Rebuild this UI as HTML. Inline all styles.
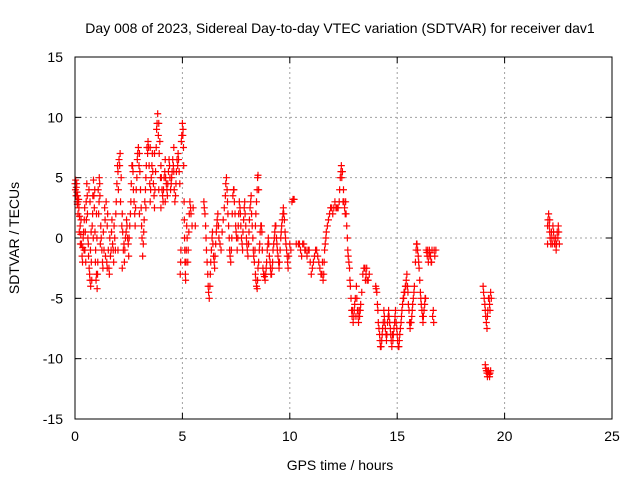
<!DOCTYPE html>
<html><head><meta charset="utf-8">
<style>
html,body{margin:0;padding:0;background:#fff;}
svg{display:block;font-family:"Liberation Sans",sans-serif;}
</style></head>
<body>
<svg id="chart" width="640" height="480" viewBox="0 0 640 480" xmlns="http://www.w3.org/2000/svg">
<text x="340" y="33" font-size="14" text-anchor="middle" fill="#000">Day 008 of 2023, Sidereal Day-to-day VTEC variation (SDTVAR) for receiver dav1</text>
<g id="grid"></g>
<g id="ticks"></g>
<g id="marks"></g>
<rect x="75" y="57" width="537" height="362" fill="none" stroke="#000" stroke-width="1"/>
<text x="340" y="470" font-size="14" text-anchor="middle">GPS time / hours</text>
<text x="19" y="238" font-size="14" text-anchor="middle" transform="rotate(-90 19 238)">SDTVAR / TECUs</text>
</svg>
<script>
const xTicks = [0, 5, 10, 15, 20, 25];
const yTicks = [-15, -10, -5, 0, 5, 10, 15];
const times = [0.00,0.03,0.06,0.09,0.12,0.15,0.18,0.21,0.24,0.27,0.30,0.33,0.36,0.40,0.43,0.46,0.50,0.52,0.55,0.58,0.60,0.63,0.66,0.70,0.73,0.76,0.80,0.83,0.86,0.90,0.93,0.96,1.00,1.03,1.06,1.10,1.13,1.16,1.20,1.25,1.30,1.35,1.40,1.45,1.50,1.55,1.60,1.65,1.70,1.75,1.80,1.85,1.90,1.95,2.00,2.05,2.10,2.15,2.20,2.25,2.30,2.35,2.40,2.45,2.50,2.55,2.60,2.65,2.70,2.75,2.80,2.85,2.90,2.95,3.00,3.05,3.10,3.15,3.20,3.25,3.30,3.35,3.40,3.45,3.50,3.55,3.60,3.65,3.70,3.75,3.80,3.85,3.90,3.95,4.00,4.05,4.10,4.15,4.20,4.25,4.30,4.35,4.40,4.45,4.50,4.55,4.60,4.65,4.70,4.75,4.80,4.85,4.90,4.93,4.95,5.00,5.03,5.06,5.08,5.10,5.12,5.15,5.18,5.20,5.25,5.30,5.35,5.40,5.45,5.50,5.60,
3.0,3.3,3.7,4.2,4.6,1.0,0.7,2.0,2.2,4.0,3.9,3.5,0.1,1.5,
6.00,6.05,6.10,6.15,6.20,6.25,6.30,6.35,6.40,6.45,6.50,6.55,6.60,6.65,6.70,6.80,6.90,7.00,7.05,7.10,7.15,7.20,7.25,7.30,7.35,7.40,7.45,7.50,7.55,7.60,7.65,7.70,7.75,7.80,7.85,7.90,7.95,8.00,8.05,8.10,8.15,8.20,8.25,8.30,8.35,8.40,8.45,8.50,8.55,8.40,8.45,8.50,8.55,8.60,8.65,8.70,8.75,8.80,8.85,8.90,8.95,9.00,9.05,9.10,9.15,9.20,9.25,9.30,9.35,9.40,9.45,9.50,9.55,9.60,9.65,9.70,9.75,9.80,9.85,9.90,9.95,10.00,10.10,10.20,10.40,10.50,10.60,10.70,10.80,10.90,11.00,11.10,11.20,11.30,11.40,11.50,11.55,11.60,11.65,11.70,11.80,11.90,12.00,12.10,12.20,12.30,12.35,12.40,12.45,12.50,12.55,12.60,12.65,12.70,12.75,12.80,12.85,12.90,12.95,13.00,13.05,13.10,13.15,13.20,13.25,13.30,13.40,13.50,13.55,13.60,13.70,14.00,14.05,14.10,14.15,14.20,14.25,14.30,14.35,14.40,14.45,14.50,14.55,14.60,14.65,14.70,14.75,14.80,14.85,14.90,14.95,15.00,15.05,15.10,15.15,15.20,15.25,15.30,15.35,15.40,15.45,15.50,15.55,15.60,15.65,15.70,15.75,15.80,15.85,15.90,15.95,16.00,16.05,16.10,16.15,16.20,16.25,16.30,16.35,16.40,16.45,16.50,16.55,16.60,16.65,16.70,16.75,16.80,
19.00,19.05,19.10,19.15,19.20,19.25,19.30,19.35,19.10,19.15,19.20,19.25,19.30,19.35,
22.00,22.05,22.10,22.15,22.20,22.25,22.30,22.35,22.40,22.45,22.50,22.55,22.00,22.10];
const values = [4.5,4.8,4.2,3.8,3.5,3.0,2.5,1.8,1.0,0.3,-0.5,-1.5,-0.8,0.5,1.5,-1.0,-2.0,3.0,4.5,2.0,0.0,-1.5,-2.5,-3.5,-4.0,-2.0,1.0,3.5,4.8,2.5,0.5,-1.0,-3.0,-4.2,-2.0,2.0,5.0,3.5,1.0,-1.0,-2.5,-1.0,1.5,3.0,1.0,-1.0,-3.0,-1.5,0.5,-0.5,-2.0,0.0,2.0,4.5,5.5,6.5,7.0,5.0,2.0,-1.0,-2.0,0.0,1.5,0.0,-1.5,1.0,3.0,6.0,5.5,3.0,1.0,4.0,6.5,7.5,7.0,4.0,1.0,-1.5,0.5,3.0,5.0,7.5,8.0,6.0,3.0,5.0,7.0,4.5,2.5,5.5,9.0,10.3,9.5,8.0,6.0,4.0,3.0,5.0,6.5,4.5,3.5,5.5,6.0,4.0,5.0,6.5,5.5,3.0,4.5,6.5,7.0,5.5,-3.0,-1.0,8.0,9.5,9.0,6.0,3.0,0.0,-2.0,-3.5,-1.0,1.0,-2.0,0.5,3.0,2.0,1.0,2.5,1.0,
2.0,2.5,7.0,3.0,7.5,2.0,3.0,-1.0,-2.5,2.5,4.0,7.5,3.0,-2.5,
3.0,2.0,0.0,-2.0,-4.0,-5.0,-3.0,-1.0,0.5,-1.5,-2.5,-0.5,1.0,2.0,0.0,-1.0,1.5,3.5,5.0,3.0,1.0,-1.0,-2.0,0.0,3.5,4.0,2.0,0.5,-1.0,1.0,3.0,2.0,0.0,-1.0,1.5,3.0,1.0,-0.5,-1.5,0.5,2.5,3.5,1.0,-1.0,-2.0,1.0,3.0,5.0,4.0,-3.0,-4.0,-3.5,-2.0,-0.5,1.0,0.5,-2.5,-3.0,-3.5,-2.5,-1.0,0.0,-1.5,-2.5,-3.0,-2.0,-0.5,0.5,1.0,-0.5,-1.5,-2.5,-1.0,0.5,1.5,2.5,1.5,0.0,-1.0,-2.0,-1.5,-0.5,3.0,3.2,-0.5,-1.0,-0.5,-1.0,-1.5,-1.0,-3.0,-2.0,-1.0,-1.5,-2.5,-3.0,-3.5,-2.0,-0.5,0.5,1.5,2.5,2.0,3.0,2.5,3.0,5.0,6.0,5.5,4.0,2.5,3.0,1.0,-1.0,-2.0,-3.5,-5.0,-6.5,-7.0,-6.0,-5.0,-4.0,-6.0,-7.0,-6.5,-5.5,-3.0,-2.5,-3.0,-3.5,-3.0,-4.0,-4.5,-6.0,-7.5,-8.5,-9.0,-8.0,-7.0,-6.5,-7.5,-8.5,-7.0,-6.0,-7.0,-8.0,-9.0,-8.5,-7.5,-6.5,-7.0,-8.0,-9.0,-8.5,-7.5,-6.5,-5.5,-5.0,-4.5,-4.0,-3.0,-4.5,-6.0,-7.5,-7.0,-6.0,-5.0,-4.0,-2.0,-0.5,-1.0,-2.0,-3.5,-5.0,-6.0,-7.0,-6.0,-5.0,-1.0,-1.5,-2.0,-1.0,-1.5,-2.0,-6.5,-7.0,-1.5,-1.0,
-4.0,-5.0,-6.0,-7.0,-6.5,-5.0,-5.5,-4.5,-10.5,-11.0,-11.5,-11.0,-11.5,-11.0,
1.0,2.0,0.5,-0.5,0.0,1.0,0.0,-0.5,-1.0,0.5,1.0,-0.5,-0.5,1.5];
const extraPoints = [[0.02,4.0],[0.05,3.5],[0.08,4.5],[0.11,2.8],[0.14,2.0],[0.17,3.2],[0.20,0.5],[0.25,-0.5],[0.28,1.5],[0.35,-2.0],[0.38,0.0],[0.42,-1.0],[0.45,2.5],[0.48,0.5],[0.53,1.5],[0.57,3.5],[0.62,-0.5],[0.65,4.0],[0.68,-3.0],[0.72,-1.0],[0.75,0.5],[0.78,-3.5],[0.82,2.0],[0.85,0.0],[0.88,3.5],[0.92,4.0],[0.95,-2.0],[0.98,-3.5],[1.02,0.0],[1.05,-3.0],[1.08,4.0],[1.12,3.0],[1.15,4.5],[1.18,-0.5],[1.22,0.0],[1.28,-2.0],[1.32,0.5],[1.38,2.5],[1.42,-1.5],[1.48,-2.0],[1.52,2.0],[1.58,-2.5],[1.62,0.0],[1.68,-1.0],[1.72,1.5],[1.78,-1.0],[1.82,1.0],[1.88,-1.0],[1.92,3.0],[1.98,6.0],[2.02,4.0],[2.08,6.0],[2.12,3.0],[2.18,1.0],[2.22,0.5],[2.28,-0.5],[2.32,-1.0],[2.38,0.5],[2.42,1.0],[2.48,-0.5],[2.52,0.0],[2.58,2.0],[2.62,4.5],[2.68,6.0],[2.72,4.0],[2.78,2.0],[2.82,2.5],[2.88,5.0],[2.92,7.0],[2.98,6.0],[3.02,5.5],[3.08,2.5],[3.12,0.0],[3.18,-0.5],[3.22,1.5],[3.28,4.0],[3.32,6.0],[3.38,7.0],[3.42,7.5],[3.48,4.5],[3.52,4.0],[3.58,6.0],[3.62,5.5],[3.68,3.5],[3.72,4.0],[3.78,7.5],[3.82,9.5],[3.88,8.5],[3.92,7.0],[3.98,5.0],[4.02,5.0],[4.08,3.5],[4.12,4.0],[4.18,5.5],[4.22,5.0],[4.28,4.0],[4.32,4.5],[4.38,6.5],[4.42,5.0],[4.48,4.5],[4.52,5.5],[4.58,6.0],[4.62,4.0],[4.68,3.5],[4.72,5.5],[4.78,6.0],[4.82,6.5],[4.88,4.5],[4.92,-2.0],[4.97,8.5],[5.02,8.5],[5.05,7.5],[5.09,1.5],[5.11,-1.0],[5.14,-3.0],[5.17,-2.0],[5.22,0.0],[5.27,-1.0],[5.32,2.0],[5.38,2.5],
[6.02,2.5],[6.08,1.0],[6.12,-1.0],[6.18,-3.0],[6.22,-4.5],[6.28,-4.0],[6.32,-2.0],[6.38,0.0],[6.42,-0.5],[6.48,-2.0],[6.52,-1.5],[6.58,0.5],[6.62,1.5],[6.68,1.0],[6.75,-0.5],[6.85,0.5],[6.95,2.5],[7.02,4.5],[7.08,4.0],[7.12,2.0],[7.18,0.0],[7.22,-1.5],[7.28,-1.0],[7.32,2.0],[7.38,4.0],[7.42,3.0],[7.48,1.0],[7.52,0.0],[7.58,0.0],[7.62,2.0],[7.68,2.5],[7.72,1.0],[7.78,-0.5],[7.82,0.5],[7.88,2.5],[7.92,2.0],[7.98,0.0],[8.02,-1.0],[8.08,-0.5],[8.12,1.5],[8.18,3.0],[8.22,2.0],[8.28,0.0],[8.32,-1.5],[8.38,-1.0],[8.42,2.0],[8.48,4.0],[8.52,5.2],[8.42,-3.5],[8.48,-4.2],[8.52,-2.5],[8.58,-1.0],[8.62,0.5],[8.68,1.0],[8.72,-1.0],[8.78,-3.0],[8.82,-3.2],[8.88,-3.0],[8.92,-2.0],[8.98,-0.5],[9.02,-0.5],[9.08,-2.0],[9.12,-3.0],[9.18,-2.5],[9.22,-1.0],[9.28,0.0],[9.32,1.0],[9.38,0.0],[9.42,-1.0],[9.48,-2.0],[9.52,-2.0],[9.58,0.0],[9.62,1.0],[9.68,2.0],[9.72,2.0],[9.78,0.5],[9.82,-0.5],[9.88,-1.5],[9.92,-2.5],[10.05,-1.0],[10.15,3.2],[10.30,-0.5],[10.45,-0.5],[10.55,-1.5],[10.65,-0.5],[10.75,-1.0],[10.85,-1.0],[10.95,-2.0],[11.05,-2.5],[11.15,-1.5],[11.25,-1.0],[11.35,-2.0],[11.45,-3.0],[11.52,-2.0],[11.58,-3.0],[11.62,-1.0],[11.68,0.0],[11.75,1.0],[11.85,2.0],[11.95,2.5],[12.05,2.5],[12.15,2.5],[12.25,2.5],[12.32,4.0],[12.38,5.5],[12.42,5.0],[12.48,3.0],[12.52,3.0],[12.58,2.0],[12.62,2.0],[12.68,0.0],[12.72,-1.5],[12.78,-2.5],[12.82,-4.0],[12.88,-6.0],[12.92,-6.0],[12.98,-6.5],[13.02,-5.5],[13.08,-6.5],[13.12,-5.0],[13.18,-6.5],[13.22,-6.0],[13.28,-6.0],[13.35,-4.5],[13.45,-2.5],[13.52,-3.5],[13.58,-2.5],[13.65,-3.5],[14.02,-4.2],[14.08,-5.5],[14.12,-7.0],[14.18,-8.0],[14.22,-9.0],[14.28,-8.5],[14.32,-7.5],[14.38,-6.0],[14.42,-7.0],[14.48,-8.0],[14.52,-8.0],[14.58,-6.5],[14.62,-6.5],[14.68,-7.5],[14.72,-8.5],[14.78,-8.0],[14.82,-8.0],[14.88,-7.0],[14.92,-6.0],[14.98,-7.5],[15.02,-8.5],[15.08,-9.0],[15.12,-8.0],[15.18,-7.0],[15.22,-6.0],[15.28,-5.0],[15.32,-4.5],[15.38,-4.0],[15.42,-3.5],[15.48,-4.0],[15.52,-5.5],[15.58,-7.0],[15.62,-7.0],[15.68,-6.5],[15.72,-5.5],[15.78,-4.5],[15.88,-1.0],[15.92,-0.5],[15.98,-1.5],[16.02,-2.5],[16.08,-4.5],[16.12,-5.5],[16.18,-6.5],[16.22,-6.5],[16.28,-5.5],[16.32,-5.0],[16.38,-1.2],[16.42,-1.0],[16.48,-1.5],[16.52,-1.2],[16.58,-2.0],[16.62,-1.0],[16.68,-6.0],[16.72,-1.0],
[19.02,-4.5],[19.08,-5.5],[19.12,-6.5],[19.18,-7.5],[19.22,-6.0],[19.28,-5.0],[19.32,-6.0],[19.38,-5.0],[19.12,-10.8],[19.18,-11.2],[19.22,-11.0],[19.28,-11.3],[19.32,-11.2],
[22.02,1.5],[22.08,1.0],[22.12,0.0],[22.18,0.5],[22.22,-0.5],[22.28,0.5],[22.32,-0.5],[22.38,0.0],[22.42,-0.5],[22.48,0.0],[22.52,0.5]];

const X0=75,X1=612,Y0=419,Y1=57;
function xs(v){return X0+(v-0)/(25-0)*(X1-X0);}
function ys(v){return Y0-(v+15)/30*(Y0-Y1);}
const NS="http://www.w3.org/2000/svg";
const grid=document.getElementById('grid'),ticks=document.getElementById('ticks'),marks=document.getElementById('marks');
function mk(tag,attrs,parent){const e=document.createElementNS(NS,tag);for(const k in attrs)e.setAttribute(k,attrs[k]);parent.appendChild(e);return e;}
xTicks.forEach(t=>{
  const x=xs(t);
  if(t>0&&t<25){const g=mk('line',{x1:x,x2:x,y1:Y0,y2:Y1,stroke:'#a0a0a0','stroke-dasharray':'2,3','stroke-width':1},grid);
  
  }
  const l=mk('text',{x:x,y:Y0+22,'font-size':14,'text-anchor':'middle'},ticks);l.textContent=t;
  
  
  mk('line',{x1:x,x2:x,y1:Y0,y2:Y0-6,stroke:'#000'},ticks);
  mk('line',{x1:x,x2:x,y1:Y1,y2:Y1+6,stroke:'#000'},ticks);
});
yTicks.forEach(t=>{
  const y=ys(t);
  if(t>-15&&t<15){const g=mk('line',{x1:X0,x2:X1,y1:y,y2:y,stroke:'#a0a0a0','stroke-dasharray':'2,3','stroke-width':1},grid);
  
  }
  const l=mk('text',{x:X0-12,y:y+5,'font-size':14,'text-anchor':'end'},ticks);l.textContent=t;
  
  
  mk('line',{x1:X0,x2:X0+6,y1:y,y2:y,stroke:'#000'},ticks);
  mk('line',{x1:X1,x2:X1-6,y1:y,y2:y,stroke:'#000'},ticks);
});
function plotPoint(tv,vv){
  const x=xs(tv),y=ys(vv);
  const p=mk('path',{d:`M${x-3.5},${y}H${x+3.5}M${x},${y-3.5}V${y+3.5}`,stroke:'#ff0000','stroke-width':1.2,fill:'none'},marks);
  
  
}
for(let i=0;i<times.length;i++){plotPoint(times[i],values[i]);}
for(let i=0;i<extraPoints.length;i++){plotPoint(extraPoints[i][0],extraPoints[i][1]);}
</script>
</body></html>
